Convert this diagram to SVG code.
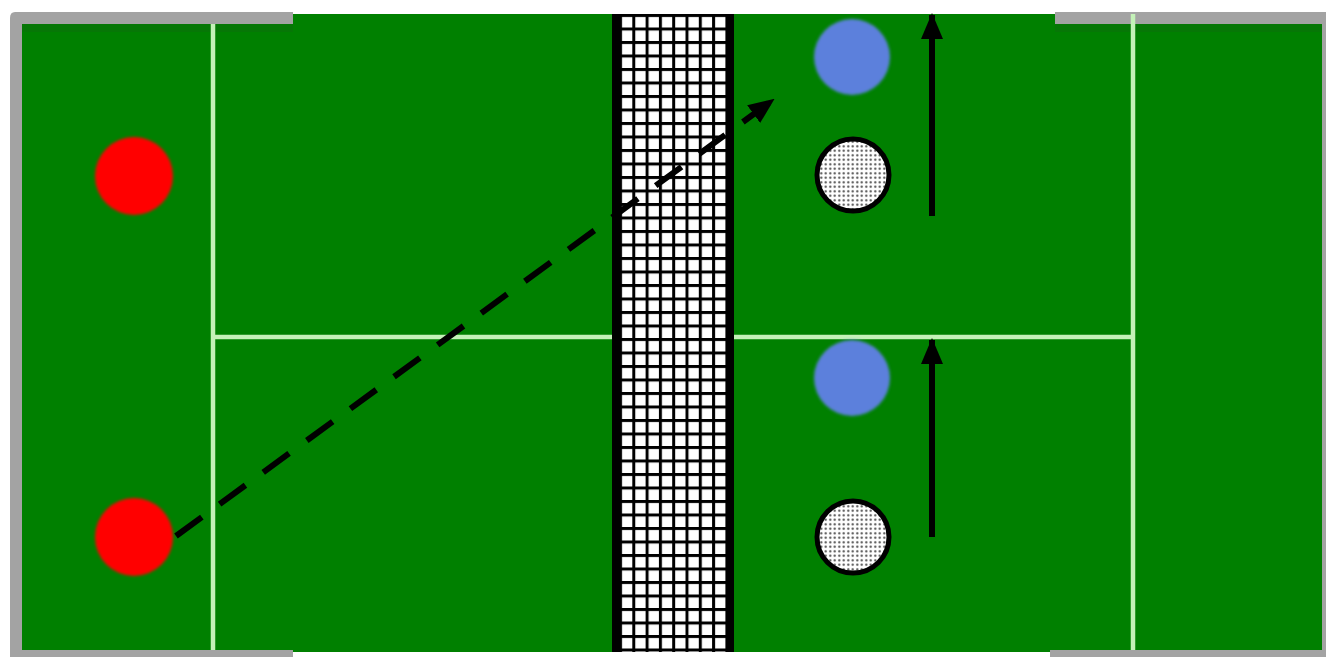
<svg xmlns="http://www.w3.org/2000/svg" width="1328" height="657" viewBox="0 0 1328 657">
  <style>
    .line { stroke: #c4f2b8; stroke-width: 4.5; fill: none; }
    .border { fill: #a3a3a3; }
    .red { fill: #ff0000; }
    .blue { fill: #5b80dc; }
    .white { fill: url(#dots); stroke: #000; stroke-width: 5; }
    .move { stroke: #000; stroke-width: 6; fill: none; }
  </style>
  <defs>
    <pattern id="net" patternUnits="userSpaceOnUse" x="619" y="14" width="13.3" height="13.5">
      <rect width="13.3" height="13.5" fill="#ffffff"/>
      <rect x="0" y="0" width="3" height="13.5" fill="#000"/>
      <rect x="0" y="0" width="13.3" height="3" fill="#000"/>
    </pattern>
    <pattern id="dots" patternUnits="userSpaceOnUse" width="4.5" height="4.5">
      <rect width="4.5" height="4.5" fill="#ffffff"/>
      <circle cx="2.25" cy="2.25" r="1.1" fill="#444"/>
    </pattern>
    <filter id="soft" x="-20%" y="-20%" width="140%" height="140%">
      <feGaussianBlur stdDeviation="1.6"/>
    </filter>
    <marker id="head" markerUnits="userSpaceOnUse" markerWidth="26" markerHeight="26" viewBox="0 0 26 26" refX="24" refY="13" orient="auto">
      <path d="M0,2 L26,13 L0,24 Z" fill="#000"/>
    </marker>
  </defs>

  <rect width="1328" height="657" fill="#ffffff"/>

  <g id="court">
    <rect x="22" y="14" width="1301" height="638" fill="#008000"/>
    <rect x="22" y="24" width="271" height="8" fill="#0b6e0b" opacity="0.5"/>
    <rect x="1055" y="24" width="268" height="8" fill="#0b6e0b" opacity="0.5"/>
    <path class="border" d="M15,12 H293 V24 H22 V650 H293 V657 H10 V18 Q10,12 15,12 Z"/>
    <path class="border" d="M1055,12 H1326 V657 H1050 V650 H1322 V24 H1055 Z"/>
    <line class="line" x1="213" y1="24" x2="213" y2="650"/>
    <line class="line" x1="1133" y1="14" x2="1133" y2="650"/>
    <line class="line" x1="213" y1="337" x2="1133" y2="337"/>
  </g>

  <g id="net-node">
    <rect x="616" y="14" width="114" height="638" fill="url(#net)"/>
    <rect x="612" y="14" width="7" height="638" fill="#000"/>
    <rect x="726" y="14" width="8" height="638" fill="#000"/>
  </g>

  <g id="red-top"><circle class="red" cx="134" cy="176" r="39" filter="url(#soft)"/></g>
  <g id="red-bottom"><circle class="red" cx="134" cy="537" r="39" filter="url(#soft)"/></g>
  <g id="blue-top"><circle class="blue" cx="852" cy="57" r="38" filter="url(#soft)"/></g>
  <g id="blue-bottom"><circle class="blue" cx="852" cy="378" r="38" filter="url(#soft)"/></g>
  <g id="white-top"><circle class="white" cx="853" cy="175" r="36"/></g>
  <g id="white-bottom"><circle class="white" cx="853" cy="537" r="36"/></g>

  <g id="connectors">
    <line class="move" x1="176" y1="536" x2="773" y2="100" stroke-dasharray="32 22" marker-end="url(#head)"/>
    <line class="move" x1="932" y1="216" x2="932" y2="15" marker-end="url(#head)"/>
    <line class="move" x1="932" y1="537" x2="932" y2="340" marker-end="url(#head)"/>
  </g>
</svg>
